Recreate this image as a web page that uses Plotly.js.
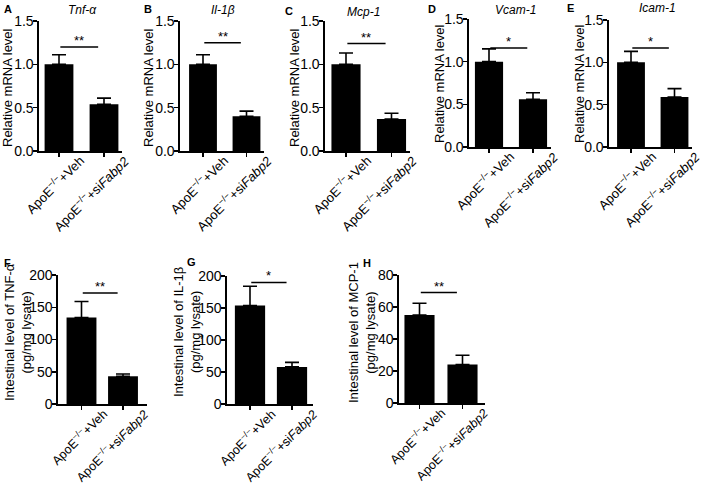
<!DOCTYPE html>
<html><head><meta charset="utf-8">
<script src="https://cdn.plot.ly/plotly-3.0.1.min.js"></script>
<style>html,body{margin:0;padding:0;background:#fff}#chart{width:709px;height:487px}</style>
</head><body><div id="chart"></div>
<script>
// ---- data ----
const groups = ["ApoE<sup>−/−</sup>+Veh", "ApoE<sup>−/−</sup>+si<i>Fabp2</i>"];
const panelLetters = ["A", "B", "C", "D", "E", "F", "G", "H"];
const panelTitles = ["<i>Tnf-α</i>", "<i>Il-1β</i>", "<i>Mcp-1</i>", "<i>Vcam-1</i>", "<i>Icam-1</i>"];
const yTitles = [
  "Relative mRNA level", "Relative mRNA level", "Relative mRNA level",
  "Relative mRNA level", "Relative mRNA level",
  "Intestinal level of TNF-α<br>(pg/mg lysate)",
  "Intestinal level of IL-1β<br>(pg/mg lysate)",
  "Intestinal level of MCP-1<br>(pg/mg lysate)"
];
const meanA = [1.00, 0.54], errA = [0.11, 0.07];
const meanB = [1.00, 0.40], errB = [0.11, 0.06];
const meanC = [1.00, 0.37], errC = [0.13, 0.065];
const meanD = [1.00, 0.56], errD = [0.15, 0.075];
const meanE = [1.00, 0.59], errE = [0.13, 0.10];
const meanF = [134, 43], errF = [25, 3.5];
const meanG = [154, 58], errG = [30, 7];
const meanH = [55, 24], errH = [7.3, 5.8];
const sigLevel = [1.20, 1.25, 1.24, 1.16, 1.17, 172, 190, 69];
const sigLabel = ["**", "**", "**", "*", "*", "**", "*", "**"];
const yMax = [1.5, 1.5, 1.5, 1.5, 1.5, 200, 200, 80];
const yStep = [0.5, 0.5, 0.5, 0.5, 0.5, 50, 50, 20];

const means = [meanA, meanB, meanC, meanD, meanE, meanF, meanG, meanH];
const errs = [errA, errB, errC, errD, errE, errF, errG, errH];

// ---- layout geometry (pixels) ----
const W = 709, H = 487;
const axisPx = [39, 180, 325, 469, 609, 58, 227, 399];
const c0Px   = [59, 203, 346, 489, 631, 81.5, 250, 419.5];
const c1Px   = [104, 246.5, 391.5, 533, 674.5, 123, 292, 462.5];
const endPx  = [122, 264, 410, 551, 692, 147, 313, 485];
const topPx  = [21, 21, 21, 19, 20, 275, 276, 275];
const botPx  = [151, 151, 151, 147, 147, 404, 404, 403];
const barW   = [0.64, 0.64, 0.64, 0.64, 0.64, 0.72, 0.72, 0.70];
const letterPos = [[2,9],[142,9],[283,11],[426,9],[565,8],[2,263],[185,262],[361,263]];
const titlePos = [[82,10],[223,10],[363,12],[515,10],[657,8]];
const yTitlePos = [[7,88],[148,88],[294,88],[439,84],[579,84],[18,332],[187,332],[362,333]];
const labelSize = [13, 13, 13, 13, 13, 12.5, 12.5, 12.5];
const labelLift = [2, 2, 2, 2, 2, 1, 1, 1];

const FONT = "Liberation Sans, Arial, Helvetica, sans-serif";
const data = [];
const layout = {
  width: W, height: H,
  margin: {l: 0, r: 0, t: 0, b: 0},
  paper_bgcolor: "#fff", plot_bgcolor: "#fff",
  showlegend: false,
  font: {family: FONT, color: "#000"},
  shapes: [], annotations: []
};

for (let i = 0; i < 8; i++) {
  const k = i === 0 ? "" : String(i + 1);
  const s = c1Px[i] - c0Px[i];
  const zeros = means[i].map(() => 0);
  data.push({
    type: "bar", x: groups, y: means[i],
    xaxis: "x" + k, yaxis: "y" + k,
    width: barW[i],
    marker: {color: "#000", line: {width: 0}},
    error_y: {type: "data", symmetric: false, array: errs[i], arrayminus: zeros,
              color: "#000", thickness: 1.6, width: 7},
    hoverinfo: "skip"
  });
  layout["xaxis" + k] = {
    domain: [axisPx[i] / W, endPx[i] / W],
    range: [(axisPx[i] - c0Px[i]) / s, (endPx[i] - c0Px[i]) / s],
    anchor: "y" + k, type: "category",
    showline: true, linecolor: "#000", linewidth: 1.6,
    ticks: "outside", ticklen: 4, tickwidth: 1.5, tickcolor: "#000",
    showticklabels: false,
    showgrid: false, zeroline: false, fixedrange: true
  };
  layout["yaxis" + k] = {
    domain: [1 - botPx[i] / H, 1 - topPx[i] / H],
    range: [0, yMax[i]], dtick: yStep[i], tick0: 0,
    tickformat: i < 5 ? ".1f" : "d",
    anchor: "x" + k,
    showline: true, linecolor: "#000", linewidth: 1.6,
    ticks: "outside", ticklen: 4, tickwidth: 1.5, tickcolor: "#000",
    ticklabelstandoff: -3,
    tickfont: {size: 14, family: FONT, color: "#000"},
    showgrid: false, zeroline: false, fixedrange: true
  };
  // rotated category labels, drawn at the category positions of the x axis
  groups.forEach((g, j) => {
    layout.annotations.push({
      xref: "x" + k, yref: "paper", x: j, y: 1 - botPx[i] / H,
      text: g, textangle: -45, showarrow: false,
      xanchor: "right", yanchor: "top", xshift: 31, yshift: labelLift[i],
      font: {size: labelSize[i], family: FONT, color: "#000"}
    });
  });
  // y-axis title
  layout.annotations.push({
    xref: "paper", yref: "paper",
    x: yTitlePos[i][0] / W, y: 1 - yTitlePos[i][1] / H,
    xanchor: "center", yanchor: "middle", textangle: -90, showarrow: false,
    text: yTitles[i],
    font: {size: 13, family: FONT, color: "#000"}
  });
  layout.shapes.push({
    type: "line", xref: "x" + k, yref: "y" + k,
    x0: 0.03, x1: 0.87, y0: sigLevel[i], y1: sigLevel[i],
    line: {color: "#000", width: 1.5}
  });
  layout.annotations.push({
    xref: "x" + k, yref: "y" + k, x: 0.45, y: sigLevel[i],
    text: sigLabel[i], showarrow: false, yanchor: "bottom", yshift: -3,
    font: {size: 13, family: FONT, color: "#000"}
  });
  layout.annotations.push({
    xref: "paper", yref: "paper",
    x: letterPos[i][0] / W, y: 1 - letterPos[i][1] / H,
    xanchor: "left", yanchor: "middle", showarrow: false,
    text: "<b>" + panelLetters[i] + "</b>",
    font: {size: 11, family: FONT, color: "#000"}
  });
  if (i < 5) {
    layout.annotations.push({
      xref: "paper", yref: "paper",
      x: titlePos[i][0] / W, y: 1 - titlePos[i][1] / H,
      xanchor: "center", yanchor: "middle", showarrow: false,
      text: panelTitles[i],
      font: {size: 12, family: FONT, color: "#000"}
    });
  }
}

Plotly.newPlot("chart", data, layout, {displayModeBar: false, staticPlot: true});
</script>
</body></html>
